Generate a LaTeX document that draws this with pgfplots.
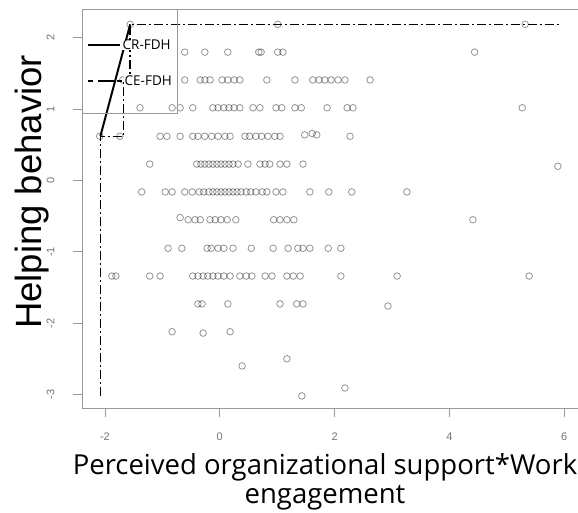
\documentclass[border=0pt]{standalone}
\usepackage{pgfplots}
\pgfplotsset{compat=1.18}
\usepackage{fontspec}
\setmainfont{Liberation Sans}
\newfontfamily\osans{Open Sans}
\newfontfamily\lsans{Liberation Sans}
\begin{document}
\begin{tikzpicture}[x=1pt,y=1pt]
\useasboundingbox (0,0) rectangle (578,512);
\clip (0,0) rectangle (578,512);
\begin{axis}[
  at={(82pt,104pt)}, anchor=south west,
  scale only axis, width=496.5pt, height=398.5pt,
  xmin=-2.40, xmax=6.25, ymin=-3.19, ymax=2.398,
  xtick={-2,0,2,4,6}, ytick={-3,-2,-1,0,1,2},
  xtick pos=left, ytick pos=left,
  tick align=outside, major tick length=9pt,
  axis line style={draw=black!40, line width=0.8pt},
  tick style={draw=black!40, line width=0.8pt},
  ticklabel style={font=\lsans\fontsize{11}{11}\selectfont, text=black!55},
  /pgf/number format/assume math mode=true,
  yticklabel style={rotate=90, anchor=south},
  xticklabel style={anchor=north},
  xticklabel shift=12pt, yticklabel shift=15pt,
]
\addplot[only marks, mark=o, mark size=3.3pt, forget plot,
  mark options={draw=black, draw opacity=0.42, line width=0.8pt}] table {
x y
-1.56 2.19
1.01 2.19
5.32 2.19
-0.61 1.80
-0.26 1.80
0.14 1.80
0.68 1.80
0.72 1.80
1.01 1.80
1.10 1.80
4.44 1.80
-1.69 1.41
-0.61 1.41
-0.34 1.41
-0.26 1.41
-0.17 1.41
0.04 1.41
0.14 1.41
0.25 1.41
0.35 1.41
0.82 1.41
1.31 1.41
1.62 1.41
1.73 1.41
1.83 1.41
1.94 1.41
2.06 1.41
2.18 1.41
2.62 1.41
-1.39 1.02
-0.83 1.02
-0.69 1.02
-0.47 1.02
-0.12 1.02
-0.03 1.02
0.07 1.02
0.16 1.02
0.25 1.02
0.35 1.02
0.58 1.02
0.70 1.02
0.98 1.02
1.08 1.02
1.31 1.02
1.42 1.02
1.87 1.02
2.22 1.02
2.32 1.02
5.27 1.02
-2.09 0.62
-1.74 0.62
-1.04 0.62
-0.92 0.62
-0.69 0.62
-0.47 0.62
-0.38 0.62
-0.26 0.62
-0.14 0.62
-0.03 0.62
0.09 0.62
0.18 0.62
0.44 0.62
0.52 0.62
0.63 0.62
0.73 0.62
0.84 0.62
0.96 0.62
1.05 0.62
1.48 0.64
1.61 0.66
1.69 0.64
2.27 0.62
-1.22 0.23
-0.40 0.23
-0.33 0.23
-0.26 0.23
-0.19 0.23
-0.12 0.23
-0.05 0.23
0.02 0.23
0.09 0.23
0.16 0.23
0.23 0.23
0.32 0.23
0.49 0.23
0.70 0.23
0.79 0.23
0.87 0.23
1.05 0.23
1.17 0.23
1.45 0.23
5.89 0.20
-1.36 -0.16
-0.95 -0.16
-0.83 -0.16
-0.61 -0.16
-0.48 -0.16
-0.36 -0.16
-0.28 -0.16
-0.19 -0.16
-0.12 -0.16
-0.05 -0.16
0.02 -0.16
0.09 -0.16
0.16 -0.16
0.23 -0.16
0.30 -0.16
0.37 -0.16
0.46 -0.16
0.54 -0.16
0.63 -0.16
0.74 -0.16
0.82 -0.16
0.98 -0.16
1.10 -0.16
1.57 -0.16
1.90 -0.16
2.30 -0.16
3.26 -0.16
-0.69 -0.52
-0.55 -0.55
-0.43 -0.55
-0.34 -0.55
-0.17 -0.55
-0.08 -0.55
0.02 -0.55
0.13 -0.55
0.28 -0.55
0.94 -0.55
1.05 -0.55
1.17 -0.55
1.29 -0.55
4.41 -0.55
-0.90 -0.95
-0.66 -0.95
-0.22 -0.95
-0.15 -0.95
-0.03 -0.95
0.07 -0.95
0.23 -0.95
0.55 -0.95
0.93 -0.95
1.19 -0.95
1.36 -0.95
1.45 -0.95
1.57 -0.95
1.89 -0.95
2.11 -0.95
-1.88 -1.34
-1.81 -1.34
-1.22 -1.34
-1.04 -1.34
-0.47 -1.34
-0.38 -1.34
-0.29 -1.34
-0.21 -1.34
-0.12 -1.34
-0.03 -1.34
0.07 -1.34
0.18 -1.34
0.35 -1.34
0.46 -1.34
0.56 -1.34
0.79 -1.34
0.91 -1.34
1.17 -1.34
1.28 -1.34
1.40 -1.34
2.11 -1.34
3.09 -1.34
5.39 -1.34
-0.38 -1.73
-0.31 -1.73
0.14 -1.73
1.05 -1.73
1.34 -1.73
1.45 -1.73
2.93 -1.76
-0.83 -2.12
-0.29 -2.14
0.18 -2.12
0.39 -2.60
1.17 -2.50
2.18 -2.91
1.43 -3.02
};
\addplot[black, line width=1.5pt, dash pattern=on 9pt off 3pt on 2pt off 3pt] coordinates {
(-2.08,-3.02) (-2.08,0.62) (-1.68,0.62) (-1.68,1.41) (-1.56,1.41) (-1.56,2.19) (5.93,2.19)};
\addplot[black, line width=2pt] coordinates {(-2.08,0.62) (-1.56,2.19)};
\end{axis}
% legend
\draw[black!40, line width=0.8pt] (82,502.5) rectangle (177,399);
\draw[black, line width=2pt] (88,467) -- (120,467);
\draw[black, line width=1.5pt, dash pattern=on 5pt off 5pt on 16pt off 3pt] (88,431) -- (123,431);
\node[anchor=west, inner sep=0.5pt, fill=white, font=\osans\fontsize{13.5}{14}\selectfont] at (122,467) {CR-FDH};
\node[anchor=west, inner sep=0.5pt, fill=white, font=\osans\fontsize{13.5}{14}\selectfont] at (124,431) {CE-FDH};
% axis titles
\node[rotate=90, anchor=base, font=\lsans\fontsize{36.5}{36.5}\selectfont] at (42,320) {Helping behavior};
\node[anchor=base, font=\osans\fontsize{27.5}{27.5}\selectfont] at (325,38) {Perceived organizational support*Work};
\node[anchor=base, font=\osans\fontsize{27.5}{27.5}\selectfont] at (325,9) {engagement};
\end{tikzpicture}
\end{document}
